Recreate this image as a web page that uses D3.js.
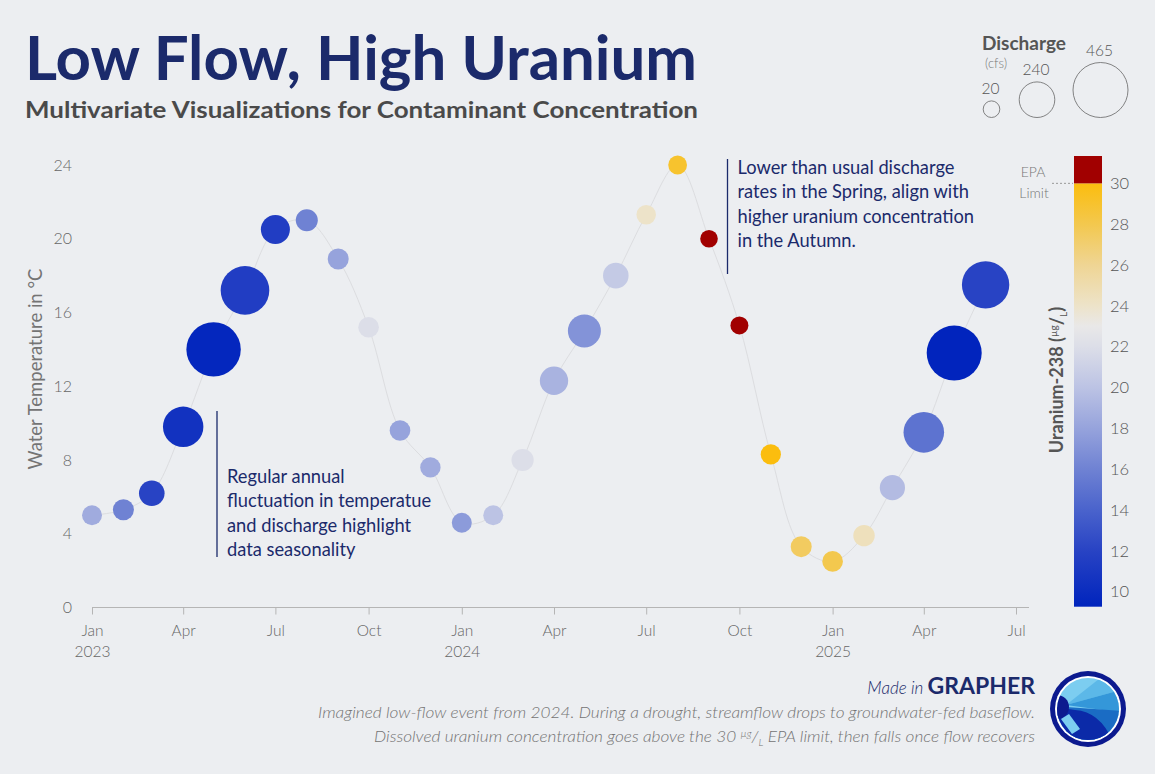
<!DOCTYPE html>
<html>
<head>
<meta charset="utf-8">
<script src="https://cdn.jsdelivr.net/npm/d3@7"></script>
<style>
  body { margin: 0; background: #eceef1; }
  svg { display: block; font-family: Lato, "Noto Sans", sans-serif; }
</style>
</head>
<body>
<svg id="chart" width="1155" height="774"></svg>
<script>
// monthly samples, first of each month
const months = [
  "2023-01", "2023-02", "2023-03", "2023-04", "2023-05", "2023-06",
  "2023-07", "2023-08", "2023-09", "2023-10", "2023-11", "2023-12",
  "2024-01", "2024-02", "2024-03", "2024-04", "2024-05", "2024-06",
  "2024-07", "2024-08", "2024-09", "2024-10", "2024-11", "2024-12",
  "2025-01", "2025-02", "2025-03", "2025-04", "2025-05", "2025-06"
];
// water temperature, °C
const temperature = [
  5.0, 5.3, 6.2, 9.8, 14.0, 17.2, 20.5, 21.0, 18.9, 15.2, 9.6, 7.6,
  4.6, 5.0, 8.0, 12.3, 15.0, 18.0, 21.3, 24.0, 20.0, 15.3, 8.3, 3.3,
  2.5, 3.9, 6.5, 9.5, 13.8, 17.5
];
// discharge, cfs
const discharge = [
  59, 71, 124, 296, 458, 391, 164, 83, 71, 67, 67, 64,
  59, 59, 85, 156, 210, 124, 54, 45, 32, 36, 62, 71,
  67, 76, 120, 298, 465, 377
];
// uranium-238, µg/L
const uranium = [
  18.5, 16.0, 12.0, 10.5, 9.5, 11.5, 11.5, 16.0, 18.0, 22.0, 18.0, 18.5,
  17.5, 20.0, 22.0, 19.0, 17.0, 20.5, 24.0, 29.0, 31.3, 31.0, 30.0, 27.5,
  28.0, 24.5, 19.5, 15.0, 9.3, 12.0
];
const legendDischarge = [20, 240, 465];
const uraniumTicks = [10, 12, 14, 16, 18, 20, 22, 24, 26, 28, 30];
const tempTicks = [0, 4, 8, 12, 16, 20, 24];
const epaLimit = 30;

const parse = d3.timeParse("%Y-%m");
const data = months.map((m, i) => ({
  date: parse(m), temp: temperature[i], q: discharge[i], u: uranium[i]
}));

const svg = d3.select("#chart");
const navy = "#1b2a6b";

// scales
const x = d3.scaleTime()
  .domain([new Date(2023, 0, 1), new Date(2025, 6, 1)])
  .range([92, 1016]);
const y = d3.scaleLinear().domain([0, 24]).range([607.5, 165]);
const r = d3.scaleLinear().domain([20, 465]).range([8.3, 27.5]);

const uStops = [9.26, 12, 14, 16, 18, 20, 22, 23, 24, 26, 28, 30];
const uColors = ["#0024bd", "#2843c4", "#4a63cc", "#6f82d3", "#96a3dc", "#bcc3e4",
  "#dcdee8", "#e9e8e8", "#ede3c9", "#efd594", "#f3c84e", "#fbbd0e"];
const blueGold = d3.scaleLinear().domain(uStops).range(uColors).clamp(true);
const color = v => v > epaLimit ? "#a10000" : blueGold(v);

// titles
svg.append("text")
  .attr("x", 25).attr("y", 80)
  .attr("textLength", 672).attr("lengthAdjust", "spacingAndGlyphs")
  .style("font-size", "62px").style("font-weight", 700)
  .style("fill", navy)
  .text("Low Flow, High Uranium");

svg.append("text")
  .attr("x", 25).attr("y", 118)
  .attr("textLength", 673).attr("lengthAdjust", "spacingAndGlyphs")
  .style("font-size", "22px").style("font-weight", 700)
  .style("fill", "#4a4a4a")
  .text("Multivariate Visualizations for Contaminant Concentration");

// y axis
const yAxis = svg.append("g")
  .attr("transform", "translate(72,0)")
  .call(d3.axisLeft(y).tickValues(tempTicks).tickSize(0).tickPadding(0));
yAxis.select(".domain").remove();
yAxis.selectAll("text")
  .style("font-size", "16px").style("fill", "#666")
  .style("font-family", "Lato, sans-serif").style("font-weight", 300);

svg.append("text")
  .attr("transform", "translate(42,369) rotate(-90)")
  .attr("text-anchor", "middle")
  .style("font-size", "18.5px").style("fill", "#747474").style("font-weight", 400)
  .text("Water Temperature in °C");

// x axis
const xAxis = svg.append("g")
  .attr("transform", `translate(0,${y(0)})`)
  .call(d3.axisBottom(x).ticks(d3.timeMonth.every(3)).tickSize(7).tickSizeOuter(0).tickPadding(10)
    .tickFormat(d3.timeFormat("%b")));
xAxis.select(".domain")
  .attr("d", `M${x.range()[0]},0H${x.range()[1] + 13}`)
  .attr("stroke", "#b5b5b5");
xAxis.selectAll(".tick line").attr("stroke", "#b5b5b5");
xAxis.selectAll(".tick text")
  .style("font-size", "15.5px").style("fill", "#666")
  .style("font-family", "Lato, sans-serif").style("font-weight", 300)
  .each(function (d) {
    if (d.getMonth() === 0) {
      d3.select(this).append("tspan")
        .attr("x", 0).attr("dy", "1.4em")
        .text(d.getFullYear());
    }
  });

// trend line
const line = d3.line()
  .x(d => x(d.date)).y(d => y(d.temp))
  .curve(d3.curveCatmullRom);
svg.append("path")
  .datum(data)
  .attr("d", line)
  .attr("fill", "none")
  .attr("stroke", "#dcdde0")
  .attr("stroke-width", 1);

// bubbles
svg.append("g").selectAll("circle")
  .data(data)
  .join("circle")
  .attr("cx", d => x(d.date))
  .attr("cy", d => y(d.temp))
  .attr("r", d => r(d.q))
  .attr("fill", d => color(d.u));

// annotations
function note(lx, y0, y1, firstY, lines) {
  svg.append("line")
    .attr("x1", lx).attr("x2", lx).attr("y1", y0).attr("y2", y1)
    .attr("stroke", navy).attr("stroke-width", 1.3);
  const t = svg.append("text")
    .attr("x", lx + 10).attr("y", firstY)
    .style("font-size", "18.3px").style("fill", navy);
  lines.forEach((s, i) => t.append("tspan").attr("x", lx + 10).attr("dy", i ? 24.4 : 0).text(s));
}
note(217, 411, 557, 483, ["Regular annual", "fluctuation in temperatue", "and discharge highlight", "data seasonality"]);
note(727.5, 159, 274, 174, ["Lower than usual discharge", "rates in the Spring, align with", "higher uranium concentration", "in the Autumn."]);

// size legend
svg.append("text").attr("x", 982).attr("y", 50)
  .style("font-size", "19px").style("font-weight", 700).style("fill", "#555")
  .text("Discharge");
svg.append("text").attr("x", 985).attr("y", 68)
  .style("font-size", "13px").style("fill", "#777").style("font-weight", 300)
  .text("(cfs)");
const legendBase = 117.5;
const legendX = [991.5, 1037, 1100.5];
const lg = svg.append("g").selectAll("g").data(legendDischarge).join("g");
lg.append("circle")
  .attr("cx", (d, i) => legendX[i])
  .attr("cy", d => legendBase - r(d))
  .attr("r", d => r(d))
  .attr("fill", "none").attr("stroke", "#666").attr("stroke-width", 0.8);
lg.append("text")
  .attr("x", (d, i) => legendX[i] - 1)
  .attr("y", d => legendBase - 2 * r(d) - 7)
  .attr("text-anchor", "middle")
  .style("font-size", "15.5px").style("fill", "#555").style("font-weight", 300)
  .text(d => d);

// colour bar
const cy = d3.scaleLinear().domain([9.26, 31.34]).range([606.7, 156]);
const grad = svg.append("defs").append("linearGradient")
  .attr("id", "ugrad").attr("x1", 0).attr("x2", 0).attr("y1", 1).attr("y2", 0);
uStops.forEach(s => grad.append("stop")
  .attr("offset", (s - 9.26) / (epaLimit - 9.26))
  .attr("stop-color", blueGold(s)));
svg.append("rect")
  .attr("x", 1074).attr("width", 28)
  .attr("y", cy(epaLimit)).attr("height", cy(9.26) - cy(epaLimit))
  .attr("fill", "url(#ugrad)");
svg.append("rect")
  .attr("x", 1074).attr("width", 28)
  .attr("y", cy(31.34)).attr("height", cy(epaLimit) - cy(31.34))
  .attr("fill", color(31));
const cAxis = svg.append("g")
  .attr("transform", "translate(1102,0)")
  .call(d3.axisRight(cy).tickValues(uraniumTicks).tickSize(0).tickPadding(8));
cAxis.select(".domain").remove();
cAxis.selectAll("text")
  .style("font-size", "16.5px").style("fill", "#555")
  .style("font-family", "Lato, sans-serif").style("font-weight", 300);

svg.append("line")
  .attr("x1", 1052).attr("x2", 1073)
  .attr("y1", cy(epaLimit)).attr("y2", cy(epaLimit))
  .attr("stroke", "#999").attr("stroke-dasharray", "2,2");
svg.append("text").attr("x", 1033).attr("y", 177).attr("text-anchor", "middle")
  .style("font-size", "14px").style("fill", "#777").style("font-weight", 300).text("EPA");
svg.append("text").attr("x", 1034).attr("y", 198).attr("text-anchor", "middle")
  .style("font-size", "14px").style("fill", "#777").style("font-weight", 300).text("Limit");

const ul = svg.append("text")
  .attr("transform", "translate(1063,380) rotate(-90)")
  .attr("text-anchor", "middle")
  .style("font-size", "18px").style("font-weight", 700).style("fill", "#555");
ul.append("tspan").text("Uranium-238 (");
ul.append("tspan").attr("dy", -6).style("font-size", "10px").style("font-weight", 400).text("µg");
ul.append("tspan").attr("dy", 6).text("/");
ul.append("tspan").attr("dy", 4).style("font-size", "10px").style("font-weight", 400).text("L");
ul.append("tspan").attr("dy", -4).text(")");

// footer
const made = svg.append("text").attr("x", 1035).attr("y", 694).attr("text-anchor", "end")
  .style("fill", navy);
made.append("tspan").style("font-size", "17px").style("font-style", "italic").style("font-weight", 300).text("Made in ");
made.append("tspan").style("font-size", "23px").style("font-weight", 700).text("GRAPHER");

svg.append("text").attr("x", 1035).attr("y", 718).attr("text-anchor", "end")
  .attr("textLength", 717).attr("lengthAdjust", "spacingAndGlyphs")
  .style("font-size", "16.5px").style("font-style", "italic").style("fill", "#747474").style("font-weight", 300)
  .text("Imagined low-flow event from 2024. During a drought, streamflow drops to groundwater-fed baseflow.");
const f2 = svg.append("text").attr("x", 1035).attr("y", 742).attr("text-anchor", "end")
  .attr("textLength", 661).attr("lengthAdjust", "spacingAndGlyphs")
  .style("font-size", "16.5px").style("font-style", "italic").style("fill", "#747474").style("font-weight", 300);
f2.append("tspan").text("Dissolved uranium concentration goes above the 30 ");
f2.append("tspan").attr("dy", -5).style("font-size", "10px").text("µg");
f2.append("tspan").attr("dy", 5).text("/");
f2.append("tspan").attr("dy", 4).style("font-size", "10px").text("L");
f2.append("tspan").attr("dy", -4).text(" EPA limit, then falls once flow recovers");

// logo
const logo = svg.append("g").attr("transform", "translate(1088,709)");
logo.append("circle").attr("r", 38).attr("fill", "#0c1a8f");
logo.append("circle").attr("r", 33).attr("fill", "#fff");
logo.append("clipPath").attr("id", "lc").append("circle").attr("r", 31);
const li = logo.append("g").attr("clip-path", "url(#lc)");
li.append("rect").attr("x", -32).attr("y", -32).attr("width", 64).attr("height", 64).attr("fill", "#7ccdf0");
li.append("path").attr("d", "M-22,-4 L16,-34 L36,-20 Z").attr("fill", "#5cb8e8");
li.append("path").attr("d", "M-22,-4 L36,-20 L36,4 Z").attr("fill", "#3497d9");
li.append("path").attr("d", "M-22,-2 L36,2 L36,36 L-22,36 Z").attr("fill", "#1a6cc4");
li.append("path").attr("d", "M-32,-2 L-13,1 Q14,3 26,36 L-32,36 Z").attr("fill", "#0b2aa8");
li.append("circle").attr("cx", -31).attr("cy", -2).attr("r", 12).attr("fill", "#0c1a8f");
li.append("path").attr("d", "M-27,10 L-19,5 L-8,20 L-16,25 Z").attr("fill", "#7ccdf0");
</script>
</body>
</html>
